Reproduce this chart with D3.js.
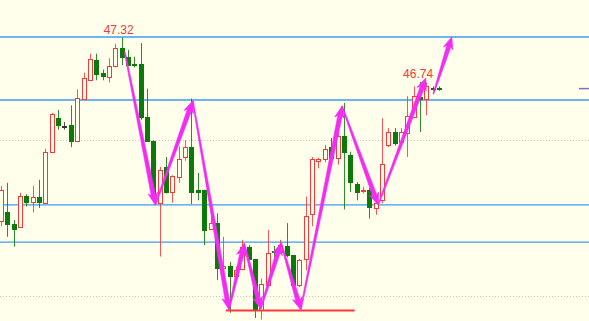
<!DOCTYPE html>
<html>
<head>
<meta charset="utf-8">
<script src="https://cdn.jsdelivr.net/npm/d3@7"></script>
<style>
  html, body { margin: 0; padding: 0; background: #ffffec; overflow: hidden; }
  svg { display: block; }
</style>
</head>
<body>
<div id="chart"></div>
<script>
// candle values, one entry per bar (index = position on the time axis)
var opens  = [44.91,45.02,44.87,44.83,45.24,45.16,45.23,45.14,45.82,46.26,
              46.16,46.17,45.97,46.52,46.77,47.03,46.86,46.81,46.95,47.19,
              47.07,46.98,46.98,46.28,45.96,45.15,45.62,45.29,45.49,45.75,
              45.88,45.32,45.32,44.80,44.88,44.29,44.31,44.18,44.28,44.56,
              44.41,43.74,44.07,44.51,44.50,44.58,44.46,44.07,44.40,44.99,
              45.70,45.73,45.88,45.73,46.03,45.77,45.40,45.31,45.32,45.09,
              45.18,45.91,46.08,45.95,46.07,46.28,46.54,46.51,46.66,46.66];
var highs  = [45.37,45.41,44.92,45.28,45.26,45.37,45.45,45.86,46.33,46.37,
              46.21,46.43,46.64,46.86,47.11,47.11,46.90,47.05,47.24,47.32,
              47.16,47.07,47.25,46.65,45.97,45.62,45.75,45.51,45.89,45.97,
              46.52,45.54,45.32,44.98,45.01,44.70,44.37,44.31,44.66,44.59,
              44.41,44.15,44.79,44.58,44.66,44.88,44.46,44.41,45.23,45.75,
              45.74,45.91,46.00,46.08,46.46,45.82,45.42,45.36,45.34,45.23,
              46.26,46.13,46.13,46.13,46.55,46.68,46.74,46.73,46.68,46.68];
var lows   = [44.84,44.70,44.57,44.82,45.10,45.02,45.08,45.13,45.80,46.11,
              46.11,45.88,45.96,46.50,46.75,46.76,46.76,46.73,46.93,46.96,
              46.95,46.93,46.24,45.95,45.19,44.44,45.27,45.15,45.41,45.70,
              45.13,45.18,44.59,44.80,44.13,44.26,43.70,44.17,44.26,44.40,
              43.63,43.61,44.07,44.43,44.49,44.43,44.04,44.04,44.26,44.84,
              45.60,45.68,45.73,45.65,45.06,45.29,45.18,45.27,44.94,44.99,
              45.14,45.88,45.90,45.90,45.75,46.26,46.08,46.30,46.62,46.62];
var closes = [45.32,44.86,44.81,45.24,45.16,45.23,45.16,45.81,46.32,46.17,
              46.16,45.96,46.53,46.79,47.04,46.84,46.82,46.95,47.19,47.07,
              46.96,46.97,46.28,45.96,45.21,45.58,45.29,45.50,45.73,45.88,
              45.29,45.29,44.79,44.88,44.29,44.32,44.18,44.26,44.57,44.40,
              43.74,44.08,44.49,44.50,44.59,44.46,44.06,44.40,44.97,45.72,
              45.72,45.86,45.73,46.02,45.82,45.41,45.29,45.32,45.10,45.15,
              45.66,46.08,45.93,46.08,46.29,46.55,46.51,46.68,46.65,46.65];

// reference levels
var blueLevels   = [47.33, 46.50, 45.12, 44.63];
var dottedLevels = [45.97, 43.92];
var supportLine  = {from: 35.4, to: 55.7, price: 43.73};
var lastPrice    = 46.65;

// high marks written above the bars
var peakLabels = [{i: 19, text: "47.32", price: 47.32, dx: -3},
                  {i: 66, text: "46.74", price: 46.74, dx: -2}];

// hand drawn zig-zag (index, price)
var zigIdx   = [19.5, 24.3, 30.2, 35.9, 38.3, 40.9, 44.1, 47.2, 53.7, 59.4, 66.9];
var zigPrice = [47.13, 45.12, 46.49, 43.74, 44.61, 43.75, 44.62, 43.74, 46.42, 45.12, 46.79];
var lastArrowIdx   = [68.1, 71.0];
var lastArrowPrice = [46.58, 47.33];

var width = 589;
var height = 321;

var bg = "#ffffec";
var upColor = "#f53a3a";
var downColor = "#0a7a0a";
var penColor = "#f22cf2";

var svg = d3.select("#chart")
            .append("svg")
            .attr("width", width)
            .attr("height", height);

svg.append("rect")
   .attr("width", width)
   .attr("height", height)
   .attr("fill", bg);

// scales, no axes are shown in the picture
var xScale = d3.scaleLinear()
               .domain([0, 92.6])
               .range([1, width]);
var yScale = d3.scaleLinear()
               .domain([43.592, 47.816])
               .range([height, 0]);

// level lines
svg.selectAll(".dotted")
   .data(dottedLevels)
   .enter()
   .append("line")
   .attr("x1", 0).attr("x2", width)
   .attr("y1", function(d){ return Math.round(yScale(d)) + 0.5; })
   .attr("y2", function(d){ return Math.round(yScale(d)) + 0.5; })
   .attr("stroke", "#c9c9c0")
   .attr("stroke-dasharray", "1,2");

svg.selectAll(".level")
   .data(blueLevels)
   .enter()
   .append("line")
   .attr("x1", 0).attr("x2", width)
   .attr("y1", function(d){ return yScale(d); })
   .attr("y2", function(d){ return yScale(d); })
   .attr("stroke", "#3d9cf5")
   .attr("stroke-width", 1.4);

// candles
var candles = d3.range(opens.length).map(function(i){
  return {i: i, o: opens[i], h: highs[i], l: lows[i], c: closes[i]};
});

function candleColor(d){
  if (d.c > d.o) return upColor;
  if (d.c < d.o) return downColor;
  return "#333333";
}

var g = svg.selectAll(".candle")
           .data(candles)
           .enter()
           .append("g")
           .attr("class", "candle");

g.append("line")
 .attr("x1", function(d){ return Math.round(xScale(d.i)) + 0.5; })
 .attr("x2", function(d){ return Math.round(xScale(d.i)) + 0.5; })
 .attr("y1", function(d){ return yScale(d.h); })
 .attr("y2", function(d){ return yScale(d.l); })
 .attr("stroke", candleColor)
 .attr("stroke-opacity", 0.85);

g.append("rect")
 .attr("x", function(d){ return Math.round(xScale(d.i)) - 1.5; })
 .attr("width", 4)
 .attr("y", function(d){ return Math.round(yScale(Math.max(d.o, d.c))) + 0.5; })
 .attr("height", function(d){
   return Math.max(1, Math.round(Math.abs(yScale(d.o) - yScale(d.c))));
 })
 .attr("fill", function(d){ return d.c > d.o ? bg : candleColor(d); })
 .attr("stroke", candleColor)
 .attr("stroke-width", 1);

// support line under the W
svg.append("line")
   .attr("x1", xScale(supportLine.from))
   .attr("x2", xScale(supportLine.to))
   .attr("y1", yScale(supportLine.price))
   .attr("y2", yScale(supportLine.price))
   .attr("stroke", "#f53a3a")
   .attr("stroke-width", 2);

// last price tick at the right edge
svg.append("line")
   .attr("x1", width - 10).attr("x2", width)
   .attr("y1", yScale(lastPrice)).attr("y2", yScale(lastPrice))
   .attr("stroke", "#7474c4")
   .attr("stroke-width", 1.5);

// tapered arrow: thin at start, wide at the head
function arrowPath(x0, y0, x1, y1){
  var dx = x1 - x0, dy = y1 - y0;
  var len = Math.sqrt(dx*dx + dy*dy);
  var ux = dx/len, uy = dy/len;
  var nx = -uy, ny = ux;
  var headL = 10, headW = 5, w0 = 0.5, w1 = 2.2;
  var bx = x1 - ux*headL, by = y1 - uy*headL;
  var pts = [
    [x0 + nx*w0, y0 + ny*w0],
    [bx + nx*w1, by + ny*w1],
    [bx + nx*headW - ux*2, by + ny*headW - uy*2],
    [x1, y1],
    [bx - nx*headW - ux*2, by - ny*headW - uy*2],
    [bx - nx*w1, by - ny*w1],
    [x0 - nx*w0, y0 - ny*w0]
  ];
  return "M" + pts.map(function(p){ return p[0].toFixed(1) + "," + p[1].toFixed(1); }).join("L") + "Z";
}

var segs = [];
for (var k = 0; k < zigIdx.length - 1; k++){
  segs.push([zigIdx[k], zigPrice[k], zigIdx[k+1], zigPrice[k+1]]);
}
segs.push([lastArrowIdx[0], lastArrowPrice[0], lastArrowIdx[1], lastArrowPrice[1]]);

svg.selectAll(".arrow")
   .data(segs)
   .enter()
   .append("path")
   .attr("class", "arrow")
   .attr("d", function(s){
     return arrowPath(xScale(s[0]), yScale(s[1]), xScale(s[2]), yScale(s[3]));
   })
   .attr("fill", penColor)
   .attr("stroke", penColor)
   .attr("stroke-width", 0.6)
   .attr("stroke-linejoin", "round");

// peak labels
svg.selectAll(".peak")
   .data(peakLabels)
   .enter()
   .append("text")
   .attr("x", function(d){ return xScale(d.i) + d.dx; })
   .attr("y", function(d){ return yScale(d.price) - 4; })
   .attr("text-anchor", "middle")
   .style("font-family", "'Liberation Sans', Arial, sans-serif")
   .style("font-size", "12px")
   .attr("fill", "#f23a3a")
   .text(function(d){ return d.text; });
</script>
</body>
</html>
